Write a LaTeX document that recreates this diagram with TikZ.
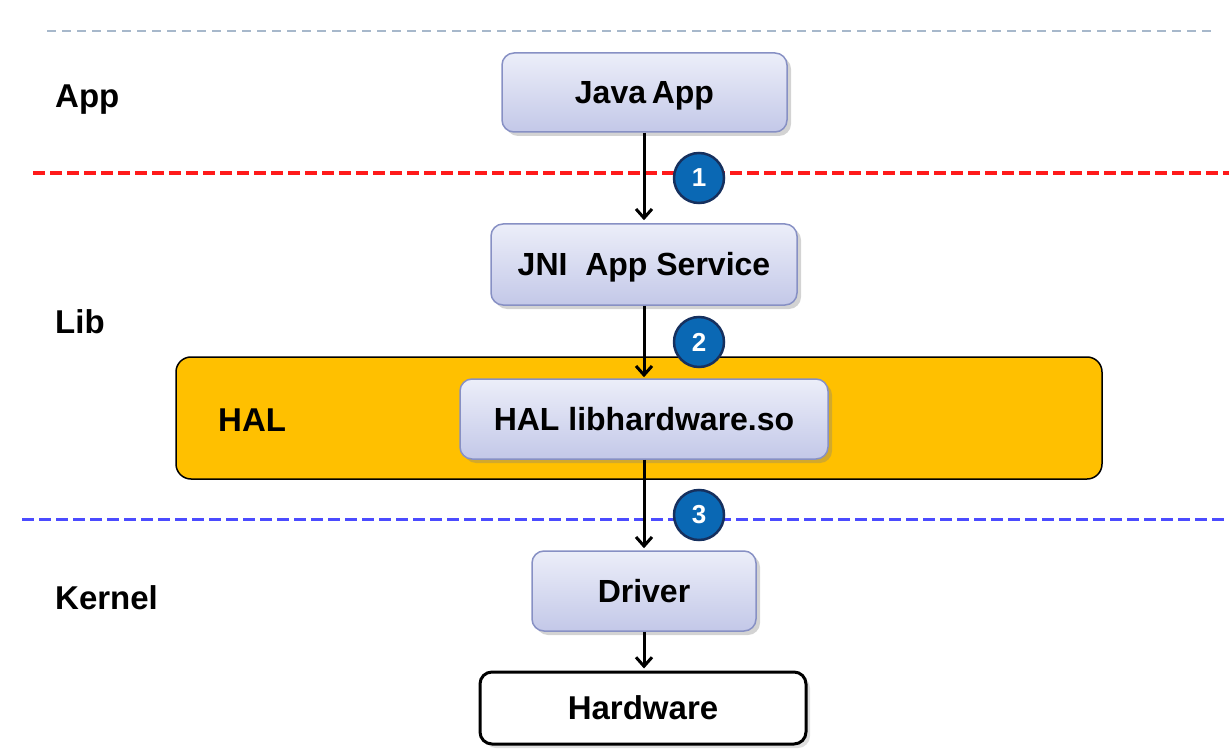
\documentclass[tikz,border=0pt]{standalone}
\usepackage{fontspec}
\setmainfont{Liberation Sans}
\usetikzlibrary{arrows.meta,shadows,shadings}
\definecolor{boxtop}{HTML}{ECEEF9}
\definecolor{boxbot}{HTML}{C3C8E8}
\definecolor{boxline}{HTML}{8790C4}
\definecolor{halorange}{HTML}{FFC000}
\definecolor{circfill}{HTML}{0A68B4}
\definecolor{circline}{HTML}{16305E}
\definecolor{redline}{HTML}{FF1A1A}
\definecolor{blueline}{HTML}{4B4BFF}
\definecolor{grayline}{HTML}{A7B8CB}
\tikzset{
  lbl/.style={font=\fontsize{33}{39}\selectfont\bfseries, anchor=base west, inner sep=0pt},
  layerbox/.style={rounded corners=12pt, draw=boxline, line width=1.5pt,
    top color=boxtop, bottom color=boxbot,
    drop shadow={shadow xshift=4pt, shadow yshift=-4pt, opacity=0.35, fill=gray},
    font=\fontsize{32}{38}\selectfont\bfseries, text height=23pt, text depth=0pt},
  hwbox/.style={rounded corners=12pt, draw=black, line width=3pt, fill=white,
    drop shadow={shadow xshift=4pt, shadow yshift=-4pt, opacity=0.25, fill=gray},
    font=\fontsize{33}{39}\selectfont\bfseries, text height=23pt, text depth=0pt},
  numcirc/.style={circle, draw=circline, line width=2.5pt, fill=circfill,
    minimum size=50pt, inner sep=0pt, text=white,
    font=\fontsize{26}{30}\selectfont\bfseries},
  flow/.style={-{Straight Barb[length=9pt,width=16pt,line width=3pt]}, line width=3pt},
}
\begin{document}
\begin{tikzpicture}[x=1pt,y=-1pt]
\useasboundingbox (0,0) rectangle (1229,754);
% layer separators
\draw[grayline, line width=2pt, dash pattern=on 9pt off 6pt] (47,31) -- (1215,31);
\draw[redline, line width=4pt, dash pattern=on 12pt off 5pt] (33,173) -- (1229,173);
\draw[blueline, line width=3pt, dash pattern=on 12pt off 5pt] (22,519) -- (1229,519);
% layer labels
\node[lbl] (lapp) at (55,108) {App};
\node[lbl] (llib) at (55,333) {Lib};
\node[lbl] (lker) at (55,609) {Kernel};
% HAL band
\node[draw=black, line width=1.5pt, fill=halorange, rounded corners=15pt,
      minimum width=926pt, minimum height=122pt] (hal) at (639,418) {};
\node[lbl] (lhal) at (218,431) {HAL};
% boxes
\node[layerbox, minimum width=285pt, minimum height=79pt] (java) at (644.5,92.5) {Java\hspace{0.18em}App};
\node[layerbox, minimum width=306pt, minimum height=81pt] (jni) at (644,264.5) {JNI\ \ App Service};
\node[layerbox, minimum width=368pt, minimum height=80pt] (lib) at (644,419) {HAL libhardware.so};
\node[layerbox, minimum width=224pt, minimum height=80pt] (drv) at (644,591) {Driver};
\node[hwbox, minimum width=326pt, minimum height=72pt] (hw) at (643,708) {Hardware};
% flows
\draw[flow, shorten >=3pt] (java.south -| 644,0) -- (jni.north -| 644,0);
\draw[flow, shorten >=1pt] (jni.south -| 644,0) -- (lib.north -| 644,0);
\draw[flow, shorten >=2pt] (lib.south -| 644,0) -- (drv.north -| 644,0);
\draw[flow, shorten >=2pt] (drv.south -| 644,0) -- (hw.north -| 644,0);
% numbers
\node[numcirc] (c1) at (699,178) {1};
\node[numcirc] (c2) at (699,342) {2};
\node[numcirc] (c3) at (699,515) {3};
\end{tikzpicture}
\end{document}
